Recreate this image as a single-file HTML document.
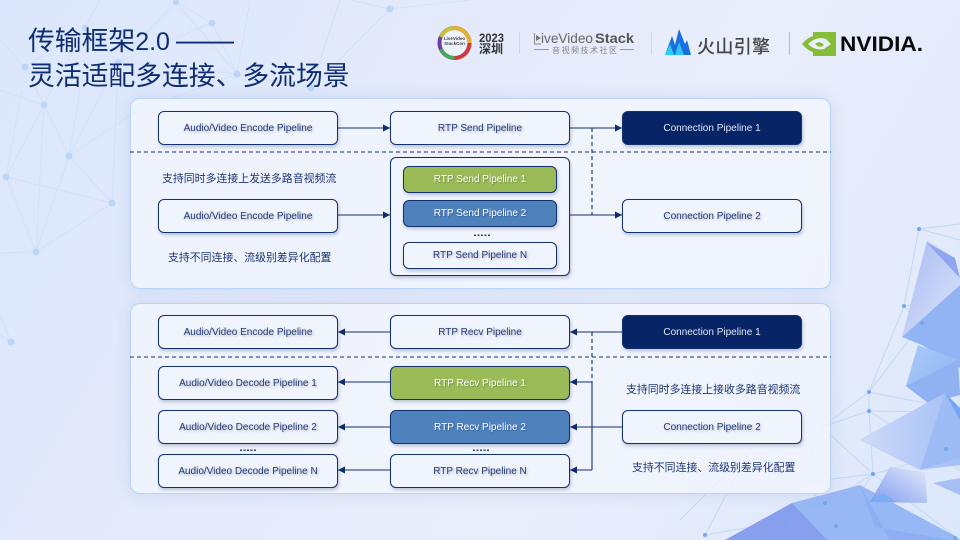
<!DOCTYPE html>
<html><head><meta charset="utf-8">
<style>
html,body{margin:0;padding:0;width:960px;height:540px;overflow:hidden}
#s{position:relative;width:960px;height:540px;overflow:hidden;background:linear-gradient(120deg,#dbe7fc 0%,#e2e9fb 30%,#e9eefb 62%,#dde7fb 100%);font-family:"Liberation Sans","Noto Sans CJK SC",sans-serif}
svg{position:absolute;left:0;top:0}
.p{position:absolute;left:130px;width:701px;height:191px;box-sizing:border-box;border:1px solid #b9d5fa;border-radius:10px;background:rgba(241,245,253,.86);box-shadow:0 0 14px rgba(150,170,220,.3)}
.b{position:absolute;box-sizing:border-box;border:1.2px solid #12316f;border-radius:6px;display:flex;align-items:center;justify-content:center;font-size:10px;color:#263c74;background:#f0f4fd;box-shadow:1px 2px 3px rgba(60,75,115,.3);text-shadow:1px 1px 2px rgba(60,70,100,.4);white-space:nowrap}
.w{width:180px;height:34px}
.n{background:#072566;color:#dfe7f8;text-shadow:none}
.g{background:#9bbb59;color:#fff;text-shadow:1px 1px 1px rgba(50,70,20,.35)}
.u{background:#4f81bd;color:#fff;text-shadow:1px 1px 1px rgba(20,40,90,.35)}
.t{position:absolute;font-size:10.9px;line-height:14px;color:#1d3671;white-space:nowrap}
.h{position:absolute;left:28px;font-size:26.8px;line-height:32px;color:#0f2d70;white-space:nowrap}
</style></head><body><div id="s">
<svg width="960" height="540" viewBox="0 0 960 540">
<defs>
<linearGradient id="l1" x1="0" y1="0" x2="1" y2="1"><stop offset="0" stop-color="#a6b8f2"/><stop offset="1" stop-color="#dde6fb"/></linearGradient>
<linearGradient id="l2" x1="0" y1="0" x2="1" y2="0"><stop offset="0" stop-color="#cfdaf9"/><stop offset="1" stop-color="#a3bff5"/></linearGradient>
<linearGradient id="l3" x1="0" y1="1" x2="1" y2="0"><stop offset="0" stop-color="#7f9bee"/><stop offset="1" stop-color="#e3eafb"/></linearGradient>
<linearGradient id="l4" x1="0" y1="0" x2="1" y2="1"><stop offset="0" stop-color="#a8cbf7"/><stop offset="1" stop-color="#8fb0f3"/></linearGradient>
</defs>
<g fill="none" stroke="#d2e1f8" stroke-width="1">
<path d="M85 28 25 67M85 28 44 105M85 28 118 62 69 156M85 28 100 0M118 62 212 23 176 2 118 62M212 23 237 74 176 2M237 74 311 88 390 9M118 62 237 74 250 0M25 67 0 40M25 67 44 105M44 105 0 90M44 105 69 156M44 105 6 177M44 105 36 252M69 156 36 252M69 156 112 203M6 177 112 203M6 177 36 252M112 203 36 252M69 156 135 112M112 203 117 90M36 252 0 253M69 156 80 90M6 177 22 90M390 9 470 0M390 9 350 0M311 88 340 0M11 342 0 315M11 342 0 335M135 112 237 74"/>
</g>
<g fill="#bcd6f9">
<circle cx="85" cy="28" r="3"/><circle cx="212" cy="23" r="3.500"/><circle cx="176" cy="2" r="3"/><circle cx="390" cy="9" r="3.500"/><circle cx="25" cy="67" r="3.500"/><circle cx="237" cy="74" r="3.500"/><circle cx="44" cy="105" r="3.500"/><circle cx="311" cy="88" r="3.500"/><circle cx="69" cy="156" r="3.500"/><circle cx="118" cy="62" r="3"/><circle cx="6" cy="177" r="3.500"/><circle cx="112" cy="203" r="3.500"/><circle cx="36" cy="252" r="3.500"/><circle cx="11" cy="342" r="3.500"/><circle cx="135" cy="112" r="3"/>
</g>
<g fill="none" stroke="#c2d8f5" stroke-width="1">
<path d="M919 229 904 306 869 392 869 411 873 474 960 540M919 229 960 224M919 229 960 240M904 306 922 323 869 392 960 410M869 411 960 412M869 411 960 470M869 392 822 427 873 474 800 483 750 450 705 535M873 474 960 450M869 411 822 427M822 427 800 483 825 503 836 526 785 521 705 535M750 450 680 520M904 306 960 300M825 503 873 474M836 526 873 474M836 526 955 538"/>
</g>
<polygon points="927,241 955,258 960,280 960,285 902,337" fill="url(#l1)"/>
<polygon points="927,243 955,258 960,278" fill="#8ea6ef"/>
<polygon points="902,337 960,285 960,368 922,345" fill="#92b4f5"/>
<polygon points="918,345 958,360 960,395 928,403 906,386" fill="url(#l4)"/>
<polygon points="906,386 958,360 960,395 928,403" fill="#90b2f3"/>
<polygon points="859,440 945,393 960,408 960,465 920,470" fill="url(#l2)"/>
<polygon points="945,393 960,408 960,422 950,425" fill="#72a6f6"/>
<polygon points="920,470 945,393 960,420 960,458" fill="#9dbbf4"/>
<polygon points="725,540 792,503 860,485 957,537 960,540" fill="#98b7f5"/>
<polygon points="725,540 792,503 827,540" fill="#879fec"/>
<polygon points="860,485 875,527 950,540 890,540" fill="#8daef2"/>
<polygon points="890,467 925,472 927,503 870,502" fill="url(#l3)"/>
<polygon points="870,502 883,494 897,502" fill="#78aef5"/>
<polygon points="933,483 960,478 960,495" fill="#a6c0f5"/>
<g fill="#72a7ea"><circle cx="919" cy="229" r="2"/><circle cx="904" cy="306" r="2"/><circle cx="922" cy="323" r="2"/><circle cx="869" cy="392" r="2"/><circle cx="869" cy="411" r="2"/><circle cx="873" cy="474" r="2"/><circle cx="946" cy="449" r="2"/><circle cx="825" cy="503" r="2"/><circle cx="836" cy="526" r="2"/><circle cx="785" cy="522" r="2"/><circle cx="705" cy="535" r="2"/><circle cx="955" cy="538" r="2"/></g>
</svg>

<div class="p" style="top:98px"></div>
<div class="p" style="top:303px"></div>

<div class="h" style="top:25px">传输框架<span style="font-size:25px">2.0</span></div>
<div class="h" style="top:25px;left:176px;font-size:29px;line-height:32px">——</div>
<div class="h" style="top:60px">灵活适配多连接、多流场景</div>

<svg width="960" height="90" viewBox="0 0 960 90">
<circle cx="454.500" cy="43" r="15" fill="#eef2fb" stroke="#6e3f9a" stroke-width="4"/>
<path d="M454.500 28A15 15 0 0 1 469.500 43" fill="none" stroke="#e8b02c" stroke-width="4"/>
<path d="M469.500 43A15 15 0 0 1 454.500 58" fill="none" stroke="#d03a3a" stroke-width="4"/>
<path d="M454.500 58A15 15 0 0 1 441 49" fill="none" stroke="#4aa858" stroke-width="4"/>
<path d="M441 37A15 15 0 0 1 454.500 28" fill="none" stroke="#c9c23a" stroke-width="4"/>
<text x="454.500" y="40" font-size="4.500" text-anchor="middle" font-weight="bold" fill="#444" font-family="Liberation Sans">LiveVideo</text>
<text x="454.500" y="45" font-size="4.500" text-anchor="middle" font-weight="bold" fill="#444" font-family="Liberation Sans">StackCon</text>
<text x="479" y="42" font-size="11.500" font-weight="bold" fill="#333" textLength="25" lengthAdjust="spacingAndGlyphs" font-family="Liberation Sans">2023</text>
<text x="479" y="53" font-size="12" font-weight="bold" fill="#333" font-family="Noto Sans CJK SC">深圳</text>
<rect x="519" y="32" width="1" height="22" fill="#cfd5e6"/>
<path d="M534.500 33V44H541" fill="none" stroke="#888" stroke-width="1"/>
<polygon points="536,35 541,38 536,41" fill="#777"/>
<text x="541" y="43" font-size="14" fill="#666" textLength="52" lengthAdjust="spacingAndGlyphs" font-family="Liberation Sans">iveVideo</text>
<text x="595" y="43" font-size="14" font-weight="bold" fill="#555" textLength="39" lengthAdjust="spacingAndGlyphs" font-family="Liberation Sans">Stack</text>
<rect x="534" y="49" width="15" height="1" fill="#999"/><rect x="620" y="49" width="14" height="1" fill="#999"/>
<text x="552" y="53" font-size="8" fill="#888" textLength="65" font-family="Noto Sans CJK SC">音视频技术社区</text>
<rect x="651" y="32" width="1" height="22" fill="#cfd5e6"/>
<polygon points="665,55 672,36 675,45 679,29 685,44 687,40 691,55" fill="#1a6fe0"/>
<polygon points="665,55 670,44 674,55" fill="#26d0f0"/>
<polygon points="675,55 679,42 684,55" fill="#2ac6f0"/>
<text x="697" y="53" font-size="18" font-weight="500" fill="#444" textLength="73" font-family="Noto Sans CJK SC">火山引擎</text>
<rect x="789" y="32" width="1" height="23" fill="#b5bccb"/>
<rect x="813" y="32" width="23" height="24" fill="#86bd36"/>
<path d="M802 44Q812 32 826 36L836 44 826 53Q812 56 802 44Z" fill="#86bd36"/>
<path d="M808 44Q816 36 826 39L831 44 824 49Q815 51 808 44ZM815 44Q820 49 824 45 820 40 815 44Z" fill="#e9eefb" fill-rule="evenodd"/>
<text x="840" y="51" font-size="21" font-weight="bold" fill="#0a0a0a" textLength="83" lengthAdjust="spacingAndGlyphs" font-family="Liberation Sans">NVIDIA.</text>
</svg>

<div class="b w" style="left:158px;top:111px">Audio/Video Encode Pipeline</div>
<div class="b w" style="left:390px;top:111px">RTP Send Pipeline</div>
<div class="b w n" style="left:622px;top:111px">Connection Pipeline 1</div>
<div class="b w" style="left:158px;top:199px">Audio/Video Encode Pipeline</div>
<div class="b" style="left:390px;top:157px;width:180px;height:119px"></div>
<div class="b g" style="left:403px;top:166px;width:154px;height:27px">RTP Send Pipeline 1</div>
<div class="b u" style="left:403px;top:200px;width:154px;height:27px">RTP Send Pipeline 2</div>
<div class="b" style="left:403px;top:242px;width:154px;height:27px">RTP Send Pipeline N</div>
<div class="b w" style="left:622px;top:199px">Connection Pipeline 2</div>

<div class="b w" style="left:158px;top:315px">Audio/Video Encode Pipeline</div>
<div class="b w" style="left:390px;top:315px">RTP Recv Pipeline</div>
<div class="b w n" style="left:622px;top:315px">Connection Pipeline 1</div>
<div class="b w" style="left:158px;top:366px">Audio/Video Decode Pipeline 1</div>
<div class="b w g" style="left:390px;top:366px">RTP Recv Pipeline 1</div>
<div class="b w" style="left:158px;top:410px">Audio/Video Decode Pipeline 2</div>
<div class="b w u" style="left:390px;top:410px">RTP Recv Pipeline 2</div>
<div class="b w" style="left:622px;top:410px">Connection Pipeline 2</div>
<div class="b w" style="left:158px;top:454px">Audio/Video Decode Pipeline N</div>
<div class="b w" style="left:390px;top:454px">RTP Recv Pipeline N</div>

<div class="t" style="left:162px;top:172px">支持同时多连接上发送多路音视频流</div>
<div class="t" style="left:168px;top:251px">支持不同连接、流级别差异化配置</div>
<div class="t" style="left:626px;top:383px">支持同时多连接上接收多路音视频流</div>
<div class="t" style="left:632px;top:461px">支持不同连接、流级别差异化配置</div>

<svg width="960" height="540" viewBox="0 0 960 540">
<defs>
<marker id="m" markerUnits="userSpaceOnUse" markerWidth="8" markerHeight="8" refX="7" refY="4" orient="auto"><path d="M0 0.500 7 4 0 7.500Z" fill="#0b2a6f"/></marker>
</defs>
<g fill="none" stroke="#12316f" stroke-width="1.100">
<g stroke-dasharray="4 3">
<path d="M130 152H831M592 128V215M130 357H831M592 332V382"/>
</g>
<path d="M338 128H390" marker-end="url(#m)"/>
<path d="M570 128H622" marker-end="url(#m)"/>
<path d="M338 215H390" marker-end="url(#m)"/>
<path d="M570 215H622" marker-end="url(#m)"/>
<path d="M390 332H338" marker-end="url(#m)"/>
<path d="M622 332H570" marker-end="url(#m)"/>
<path d="M390 382H338" marker-end="url(#m)"/>
<path d="M592 382H570" marker-end="url(#m)"/>
<path d="M390 427H338" marker-end="url(#m)"/>
<path d="M622 427H570" marker-end="url(#m)"/>
<path d="M390 470H338" marker-end="url(#m)"/>
<path d="M592 470H570" marker-end="url(#m)"/>
<path d="M592 382V470"/>
</g>
<g fill="#33456f">
<rect x="474" y="234.500" width="2" height="1.500"/><rect x="477.500" y="234.500" width="2" height="1.500"/><rect x="481" y="234.500" width="2" height="1.500"/><rect x="484.500" y="234.500" width="2" height="1.500"/><rect x="488" y="234.500" width="2" height="1.500"/>
<rect x="473" y="449.500" width="2" height="1.500"/><rect x="476.500" y="449.500" width="2" height="1.500"/><rect x="480" y="449.500" width="2" height="1.500"/><rect x="483.500" y="449.500" width="2" height="1.500"/><rect x="487" y="449.500" width="2" height="1.500"/>
<rect x="240" y="449.500" width="2" height="1.500"/><rect x="243.500" y="449.500" width="2" height="1.500"/><rect x="247" y="449.500" width="2" height="1.500"/><rect x="250.500" y="449.500" width="2" height="1.500"/><rect x="254" y="449.500" width="2" height="1.500"/>
</g>
</svg>
</div></body></html>
